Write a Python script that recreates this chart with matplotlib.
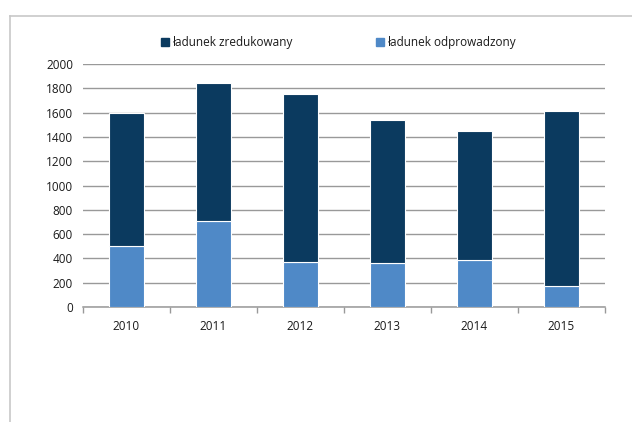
import matplotlib
matplotlib.use("Agg")
import matplotlib.pyplot as plt
import numpy as np
from matplotlib.lines import Line2D

years = ["2010", "2011", "2012", "2013", "2014", "2015"]
odprowadzony = [505, 705, 368, 364, 386, 173]
suma = [1600, 1843, 1752, 1542, 1450, 1618]
zredukowany = [s - o for s, o in zip(suma, odprowadzony)]

DARK = "#0b3a5f"
LIGHT = "#4f89c7"
GRID = "#999999"
TXT = "#1a1a1a"

plt.rcParams["font.family"] = ["Open Sans", "DejaVu Sans"]

fig = plt.figure(figsize=(6.32, 4.22), dpi=100)
ax = fig.add_axes([0.131, 0.2725, 0.826, 0.5755])

x = np.arange(len(years))
ax.bar(x, odprowadzony, width=0.4, color=LIGHT, edgecolor="white", linewidth=0.8,
       label="ładunek odprowadzony", zorder=3)
ax.bar(x, zredukowany, width=0.4, bottom=odprowadzony, color=DARK, edgecolor="white",
       linewidth=0.8, label="ładunek zredukowany", zorder=3)

ax.set_xlim(-0.5, len(years) - 0.5)
ax.set_ylim(0, 2000)
ax.set_yticks(np.arange(0, 2001, 200))
ax.yaxis.grid(True, color=GRID, linewidth=1.0, zorder=0)
ax.tick_params(axis="y", length=0, labelsize=8.5, pad=7, labelcolor=TXT)

ax.set_xticks(x)
ax.set_xticklabels(years)
ax.set_xticks(np.arange(-0.5, len(years)), minor=True)
ax.tick_params(axis="x", which="major", length=0, labelsize=8.5, pad=9, labelcolor=TXT)
ax.tick_params(axis="x", which="minor", length=4, color=GRID, width=1.0)

for s in ["top", "right", "left"]:
    ax.spines[s].set_visible(False)
ax.spines["bottom"].set_color(GRID)
ax.spines["bottom"].set_linewidth(1.1)

handles = [
    Line2D([], [], marker="s", linestyle="none", color=DARK, markersize=5.5),
    Line2D([], [], marker="s", linestyle="none", color=LIGHT, markersize=5.5),
]
leg = fig.legend(handles, ["ładunek zredukowany", "ładunek odprowadzony"],
                 loc="center", bbox_to_anchor=(0.535, 0.9), ncol=2, frameon=False,
                 fontsize=8.5, handlelength=0.8, handletextpad=0.2, columnspacing=7.0)
for t in leg.get_texts():
    t.set_color(TXT)

# outer frame lines (top and left)
fig.add_artist(Line2D([0.016, 1.0], [0.962, 0.962], color="#c8c8c8", linewidth=1.2,
                      transform=fig.transFigure))
fig.add_artist(Line2D([0.016, 0.016], [0.0, 0.962], color="#c8c8c8", linewidth=1.2,
                      transform=fig.transFigure))

fig.savefig("out.png", dpi=100)
